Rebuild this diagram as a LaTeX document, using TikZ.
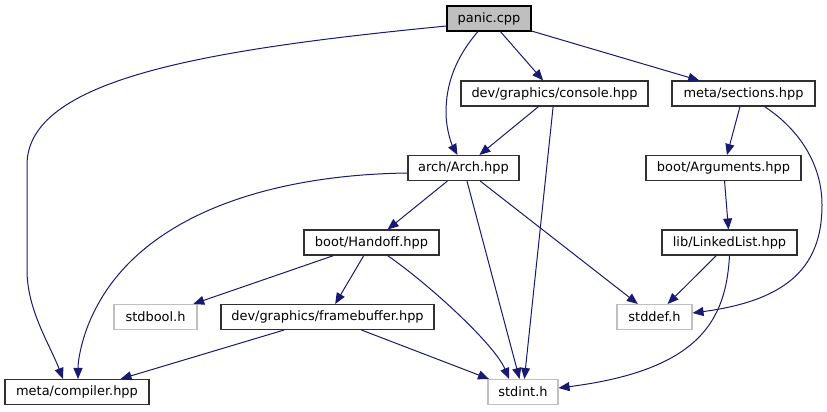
\documentclass[tikz,border=0pt]{standalone}
\usepackage{fontspec}
\setmainfont{DejaVu Sans}
\usetikzlibrary{arrows.meta,calc}
\definecolor{edgeblue}{HTML}{191970}
\definecolor{grey25}{HTML}{303030}
\definecolor{grey75}{HTML}{BFBFBF}

\begin{document}
\begin{tikzpicture}[x=0.75pt, y=-0.75pt, >={Triangle[length=8.25pt,width=6.75pt]},
 f/.style={draw=grey25, line width=0.8pt, fill=white, minimum height=18.75pt, inner sep=0pt, font=\fontsize{9.7}{11.6}\selectfont},
 sys/.style={f, draw=grey75},
 e/.style={->, draw=edgeblue, line width=0.75pt}]
\useasboundingbox (0,0) rectangle (827,411);
\node[f, fill=grey75, draw=black, minimum width=63pt] (panic) at (489,18.5) {panic.cpp};
\node[f, minimum width=140.25pt] (console) at (554.5,93.5) {dev/graphics/console.hpp};
\node[f, minimum width=107.25pt] (sections) at (743.5,93.5) {meta/sections.hpp};
\node[f, minimum width=83.25pt] (arch) at (463.5,168) {arch/Arch.hpp};
\node[f, minimum width=116.25pt] (args) at (723.5,168) {boot/Arguments.hpp};
\node[f, minimum width=101.25pt] (handoff) at (371.5,242.5) {boot/Handoff.hpp};
\node[f, minimum width=101.25pt] (list) at (729.5,242.5) {lib/LinkedList.hpp};
\node[sys, minimum width=62.25pt] (stdbool) at (155.5,317) {stdbool.h};
\node[f, minimum width=159.75pt] (fb) at (327.5,317) {dev/graphics/framebuffer.hpp};
\node[sys, minimum width=56.25pt] (stddef) at (654.5,317) {stddef.h};
\node[f, minimum width=108pt] (compiler) at (77,392) {meta/compiler.hpp};
\node[sys, minimum width=52.5pt] (stdint) at (523,392) {stdint.h};

\draw[e] (panic.190) .. controls (200,50) and (27,80) .. (27,165) -- (27,270)
  .. controls (27,310) and (50,345) .. ($(compiler.north)+(-14,0)$);
\draw[e] ($(panic.south)+(-11,0)$) .. controls (455,58) and (446,85) .. (446,112)
  .. controls (446,130) and (452,145) .. ($(arch.north)+(-6,0)$);
\draw[e] (panic) -- (console);
\draw[e] (panic) -- (sections);
\draw[e] (console) -- (arch);
\draw[e] (console) -- (stdint);
\draw[e] (sections) -- (args);
\draw[e] ($(sections.south)+(21,0)$) .. controls (800,130) and (822,165) .. (822,205)
  .. controls (822,265) and (790,300) .. ($(stddef.east)+(0,-4)$);
\draw[e] (args) -- (list);
\draw[e] (list) -- (stddef);
\draw[e] (list.south) .. controls (726,320) and (700,370) .. ($(stdint.east)+(0,-4)$);
\draw[e] ($(arch.west)+(0,5)$) .. controls (260,175) and (140,220) .. (95,310)
  .. controls (82,335) and (78,360) .. ($(compiler.north)+(1,0)$);
\draw[e] (arch) -- (handoff);
\draw[e] (arch) -- (stdint);
\draw[e] (arch) -- (stddef);
\draw[e] (handoff) -- (stdbool);
\draw[e] (handoff) -- (fb);
\draw[e] ($(handoff.south)+(16,0)$) .. controls (430,285) and (495,345) .. ($(stdint.north)+(-14,0)$);
\draw[e] (fb) -- (compiler);
\draw[e] (fb) -- (stdint);
\end{tikzpicture}
\end{document}
